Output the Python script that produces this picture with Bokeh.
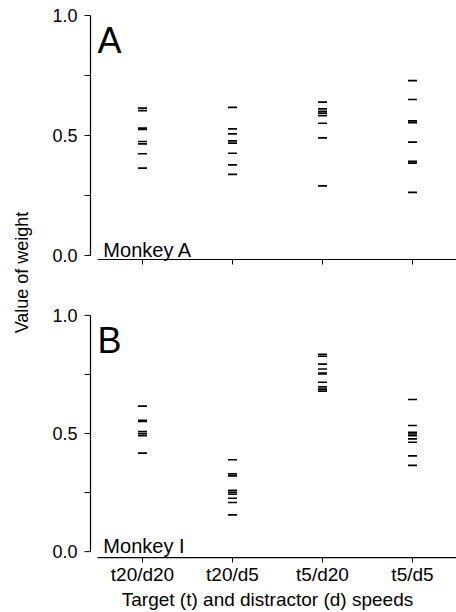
import math
from bokeh.plotting import figure
from bokeh.layouts import row, column
from bokeh.models import Range1d, FixedTicker, PrintfTickFormatter
from bokeh.core.properties import value
from bokeh.embed import file_html
from bokeh.resources import INLINE

# ---------------- data ----------------
categories = ["t20/d20", "t20/d5", "t5/d20", "t5/d5"]
cat_pos = [1, 2, 3, 4]

monkey_a_t20_d20 = [0.614, 0.604, 0.531, 0.525, 0.475, 0.465, 0.424, 0.364]
monkey_a_t20_d5 = [0.617, 0.528, 0.507, 0.478, 0.468, 0.426, 0.378, 0.338]
monkey_a_t5_d20 = [0.639, 0.611, 0.601, 0.593, 0.583, 0.551, 0.490, 0.290]
monkey_a_t5_d5 = [0.729, 0.650, 0.561, 0.554, 0.472, 0.392, 0.385, 0.263]

monkey_i_t20_d20 = [0.616, 0.556, 0.551, 0.508, 0.499, 0.491, 0.417]
monkey_i_t20_d5 = [0.389, 0.329, 0.321, 0.259, 0.251, 0.243, 0.226, 0.208, 0.156]
monkey_i_t5_d20 = [0.835, 0.827, 0.794, 0.773, 0.756, 0.752, 0.717, 0.697, 0.688, 0.679]
monkey_i_t5_d5 = [0.644, 0.534, 0.505, 0.498, 0.491, 0.477, 0.463, 0.405, 0.365]

y_ticks = [0, 0.5, 1]
y_minor_ticks = [0.25, 0.75]

# ---------------- layout constants ----------------
FONT = "Liberation Sans"
PX_X = 90.0                        # pixels per category step
X_START = 1 - 64 / PX_X            # frame starts 64 px left of first category
X_END = 4 + 44 / PX_X
AXIS_X = 1 - 52 / PX_X             # y-axis line position (data units)
XAXIS_FROM = 0.5                   # x-axis line starts here
Y_TICK_LEN = 6 / PX_X


def make_panel(series, letter, monkey, height, top, bottom, px_y, pad_top, pad_bottom,
               xaxis_gap, show_labels):
    y_end = 1 + pad_top / px_y
    y_start = -pad_bottom / px_y
    p = figure(width=416, height=height, output_backend="svg", toolbar_location=None,
               x_range=Range1d(X_START, X_END), y_range=Range1d(y_start, y_end),
               min_border_left=38, min_border_right=0, min_border_top=top,
               min_border_bottom=bottom)
    p.grid.visible = False
    p.outline_line_color = None

    # data marks
    xs, ys = [], []
    for pos, vals in zip(cat_pos, series):
        xs.extend([pos] * len(vals))
        ys.extend(vals)
    p.scatter(xs, ys, marker="dash", size=9, line_color="black", line_width=1.7)

    # axis rules and ticks drawn inside the frame
    all_y = sorted(y_ticks + y_minor_ticks)
    p.segment(x0=[AXIS_X], y0=[min(all_y)], x1=[AXIS_X], y1=[max(all_y)],
              line_color="black", line_width=1.2)
    p.segment(x0=[AXIS_X - Y_TICK_LEN] * len(all_y), y0=all_y,
              x1=[AXIS_X] * len(all_y), y1=all_y, line_color="black", line_width=1)
    xaxis_y = -xaxis_gap / px_y
    p.segment(x0=[XAXIS_FROM], y0=[xaxis_y], x1=[X_END], y1=[xaxis_y],
              line_color="black", line_width=1.2)
    p.segment(x0=cat_pos, y0=[xaxis_y] * len(cat_pos), x1=cat_pos,
              y1=[xaxis_y - 5 / px_y] * len(cat_pos), line_color="black", line_width=1)

    # panel letter and monkey name
    p.text(x=[0.5], y=[0.895], text=[letter], text_font=value(FONT),
           text_font_size="36px", text_color="black", text_baseline="alphabetic")
    p.text(x=[0.565], y=[0.025], text=[monkey], text_font=value(FONT),
           text_font_size="20px", text_color="black", text_baseline="alphabetic")

    # y axis: labels only
    ya = p.yaxis[0]
    ya.ticker = FixedTicker(ticks=y_ticks)
    ya.formatter = PrintfTickFormatter(format="%.1f")
    ya.axis_line_color = None
    ya.major_tick_line_color = None
    ya.minor_tick_line_color = None
    ya.major_tick_out = 0
    ya.major_tick_in = 0
    ya.minor_tick_out = 0
    ya.minor_tick_in = 0
    ya.major_label_standoff = 1
    ya.major_label_text_font = FONT
    ya.major_label_text_font_size = "18px"
    ya.major_label_text_color = "black"

    # x axis: labels only
    xa = p.xaxis[0]
    if show_labels:
        xa.ticker = FixedTicker(ticks=cat_pos)
        xa.major_label_overrides = {pos: c for pos, c in zip(cat_pos, categories)}
        xa.axis_line_color = None
        xa.major_tick_line_color = None
        xa.minor_tick_line_color = None
        xa.major_tick_out = 0
        xa.major_tick_in = 0
        xa.minor_tick_out = 0
        xa.minor_tick_in = 0
        xa.major_label_standoff = 0
        xa.major_label_text_font = FONT
        xa.major_label_text_font_size = "19px"
        xa.major_label_text_color = "black"
        xa.axis_label = "Target (t) and distractor (d) speeds"
        xa.axis_label_text_font = FONT
        xa.axis_label_text_font_size = "19px"
        xa.axis_label_text_font_style = "normal"
        xa.axis_label_text_color = "black"
        xa.axis_label_standoff = 1
    else:
        xa.visible = False
    return p


pA = make_panel([monkey_a_t20_d20, monkey_a_t20_d5, monkey_a_t5_d20, monkey_a_t5_d5],
                "A", "Monkey A", height=285, top=10, bottom=18, px_y=240.0,
                pad_top=5, pad_bottom=12, xaxis_gap=4, show_labels=False)
pB = make_panel([monkey_i_t20_d20, monkey_i_t20_d5, monkey_i_t5_d20, monkey_i_t5_d5],
                "B", "Monkey I", height=327, top=20, bottom=46, px_y=239.0,
                pad_top=10, pad_bottom=12, xaxis_gap=6, show_labels=True)

# shared y-axis title in a narrow strip
p0 = figure(width=40, height=612, output_backend="svg", toolbar_location=None,
            x_range=Range1d(0, 40), y_range=Range1d(0, 612), min_border=0)
p0.axis.visible = False
p0.grid.visible = False
p0.outline_line_color = None
p0.text(x=[21], y=[612 - 272], text=["Value of weight"], angle=math.pi / 2,
        text_align="center", text_baseline="middle", text_font=value(FONT),
        text_font_size="18px", text_color="black")

layout = row(p0, column(pA, pB))

with open("out.html", "w") as f:
    f.write(file_html(layout, INLINE))
